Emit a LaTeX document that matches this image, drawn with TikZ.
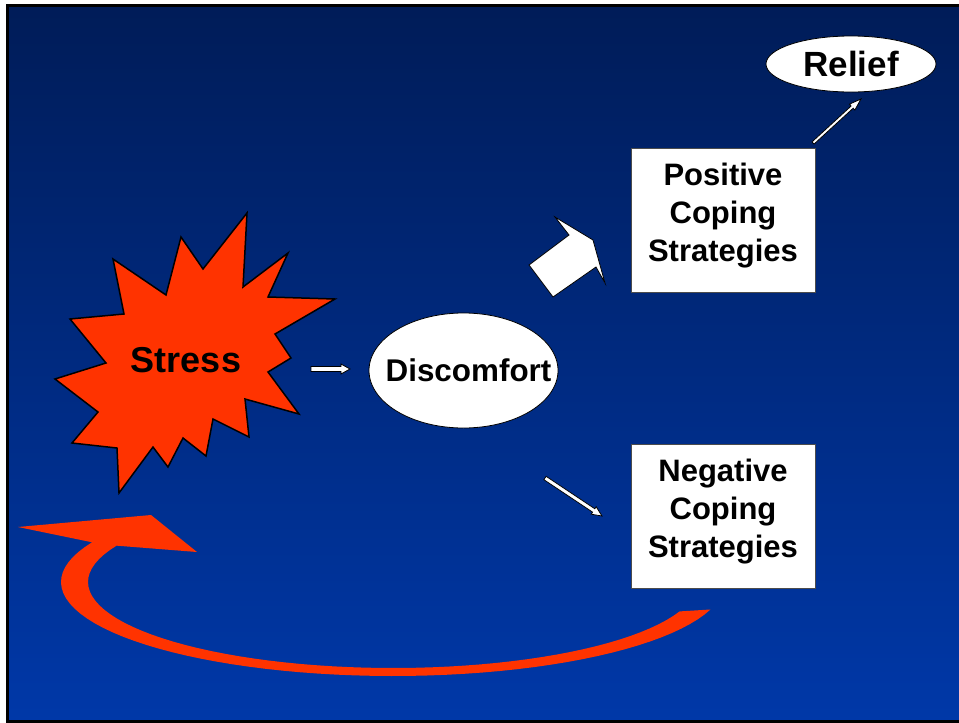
\documentclass[tikz,border=0pt]{standalone}
\usepackage{fontspec}
\setmainfont{Liberation Sans}
\usetikzlibrary{calc,shapes.geometric}

\definecolor{burstred}{RGB}{255,51,0}
\definecolor{navytop}{RGB}{0,28,88}
\definecolor{navybot}{RGB}{0,56,168}

\tikzset{
	arrowfill/.style={fill=white,draw=black,line width=0.4pt},
	box/.style={draw=black!70,fill=white,line width=0.5pt,minimum width=92pt,minimum height=72pt,inner sep=0pt,font=\bfseries\fontsize{15.5}{19}\selectfont},
	oval/.style={ellipse,draw=black,fill=white,line width=0.4pt,inner sep=0pt}
}

% block arrow: from, to, half shaft, half head, head length
\newcommand{\blockarrow}[5]{%
	\coordinate (ba-h) at ($(#2)!#5!(#1)$);
	\filldraw[arrowfill] ($(#1)!#3!90:(#2)$) -- ($(ba-h)!#3!90:(#2)$) -- ($(ba-h)!#4!90:(#2)$) -- (#2)
	-- ($(ba-h)!#4!-90:(#2)$) -- ($(ba-h)!#3!-90:(#2)$) -- ($(#1)!#3!-90:(#2)$) -- cycle;}
% three centred lines, a little above the middle
\newcommand{\boxlines}[3]{\raisebox{2pt}[\height][\depth]{\begin{tabular}{@{}c@{}}#1\\#2\\#3\end{tabular}}}

\begin{document}
\begin{tikzpicture}[x=0.5pt,y=-0.5pt]
\useasboundingbox (0,0) rectangle (959,723);
\shade[top color=navytop,bottom color=navybot] (7.5,5) rectangle (965,721);
\draw[line width=1.5pt] (7.5,5) rectangle (965,721);

% stress burst
\filldraw[fill=burstred,line width=0.75pt] (247,213) -- (243,287) -- (288,253) -- (268,297) -- (335,299) -- (275,334) -- (291,358) -- (268,372) -- (299,414) -- (245,399) -- (249,437) -- (213,419) -- (206,456) -- (183,438) -- (168,467) -- (153,447) -- (119,493) -- (117,448) -- (72,443) -- (98,412) -- (55,379) -- (106,363) -- (70,319) -- (124,314) -- (113,259) -- (166,295) -- (181,237) -- (203,269) -- cycle;
\node[font=\bfseries\fontsize{18}{20}\selectfont] (stress) at (186,360) {Stress};

\node[oval,minimum width=94.5pt,minimum height=57.5pt,font=\bfseries\fontsize{15.7}{18}\selectfont] (disc) at (463.5,370.5) {\makebox[0pt]{\hspace{5pt}Discomfort}};
\node[oval,minimum width=85pt,minimum height=28pt,font=\bfseries\fontsize{17.5}{20}\selectfont] (relief) at (851,64) {\makebox[0pt]{Relief}};
\node[box] (pos) at (723,220) {\boxlines{Positive}{Coping}{Strategies}};
\node[box] (neg) at (723,516) {\boxlines{Negative}{Coping}{Strategies}};

% connectors
\coordinate (sd1) at (311,369); \coordinate (sd2) at (350,369);
\coordinate (dn1) at (545,478); \coordinate (dn2) at (602,516);
\coordinate (pr1) at (813,143); \coordinate (pr2) at (861,99);
\blockarrow{sd1}{sd2}{1.25pt}{2.5pt}{4.5pt}
\blockarrow{dn1}{dn2}{1pt}{2.25pt}{5pt}
\blockarrow{pr1}{pr2}{0.75pt}{2pt}{6pt}
\filldraw[arrowfill] (529,265) -- (569,235) -- (555,217) -- (593,240) -- (605,283) -- (596,267) -- (553,297) -- cycle;

% feedback loop
\fill[burstred] plot[domain=17:205,samples=60] ({393+332*cos(\x)},{582+94*sin(\x)})
	-- (18,527) -- (151,515) -- (197,552)
	-- plot[domain=205:20,samples=60] ({393+305*cos(\x)},{582+86*sin(\x)}) -- cycle;
\end{tikzpicture}
\end{document}
